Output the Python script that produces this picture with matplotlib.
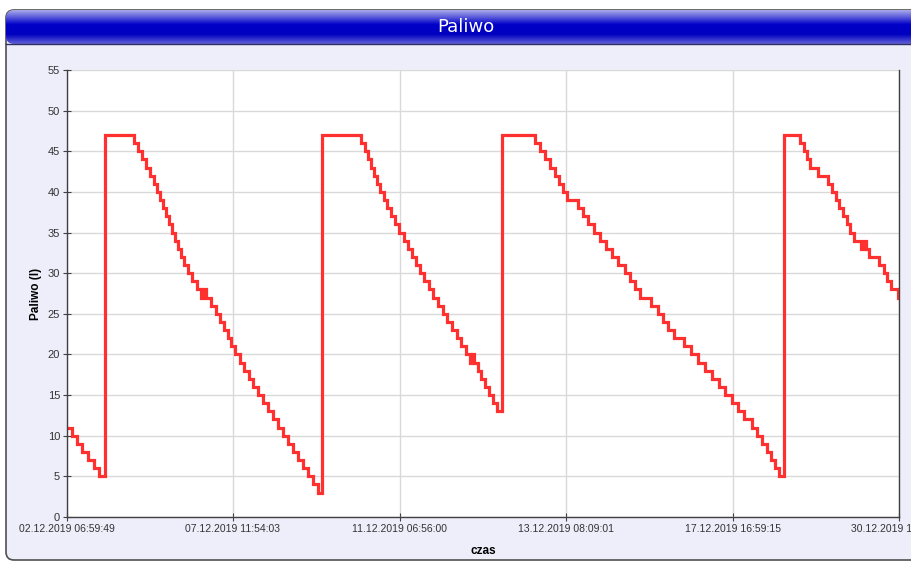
import matplotlib
matplotlib.use("Agg")
import matplotlib.pyplot as plt
import numpy as np
from matplotlib.patches import FancyBboxPatch
from matplotlib.colors import LinearSegmentedColormap
from matplotlib.transforms import IdentityTransform

# ---- data: sample index (x) where each fuel level (y) begins; step chart ----
cycle0_x = [0, 5, 10, 15, 21, 27, 32]
cycle0_y = [11, 10, 9, 8, 7, 6, 5]

cycle1_x = [38, 67, 71, 75, 79, 83, 87, 90, 93, 96, 99, 102, 105, 108, 111, 114, 117,
            121, 125, 130, 134, 136, 139, 144, 149, 153, 157, 161, 164, 168, 173, 177,
            182, 186, 191, 196, 201, 206, 211, 216, 221, 226, 231, 236, 241, 246, 251]
cycle1_y = [47, 46, 45, 44, 43, 42, 41, 40, 39, 38, 37, 36, 35, 34, 33, 32, 31,
            30, 29, 28, 27, 28, 27, 26, 25, 24, 23, 22, 21, 20, 19, 18,
            17, 16, 15, 14, 13, 12, 11, 10, 9, 8, 7, 6, 5, 4, 3]

cycle2_x = [255, 294, 298, 301, 304, 307, 310, 313, 317, 320, 324, 328, 332, 337, 341,
            345, 349, 353, 357, 362, 366, 371, 376, 380, 385, 390, 394, 399, 403, 405,
            407, 411, 414, 418, 422, 426, 430]
cycle2_y = [47, 46, 45, 44, 43, 42, 41, 40, 39, 38, 37, 36, 35, 34, 33,
            32, 31, 30, 29, 28, 27, 26, 25, 24, 23, 22, 21, 20, 19, 20,
            19, 18, 17, 16, 15, 14, 13]

cycle3_x = [435, 468, 473, 478, 483, 488, 492, 496, 500, 511, 516, 521, 527, 533, 539,
            545, 551, 558, 563, 568, 573, 584, 591, 596, 601, 607, 617, 624, 631, 638,
            645, 652, 658, 665, 671, 677, 685, 690, 695, 700, 704, 708, 712]
cycle3_y = [47, 46, 45, 44, 43, 42, 41, 40, 39, 38, 37, 36, 35, 34, 33,
            32, 31, 30, 29, 28, 27, 26, 25, 24, 23, 22, 21, 20, 19, 18,
            17, 16, 15, 14, 13, 12, 11, 10, 9, 8, 7, 6, 5]

cycle4_x = [717, 733, 737, 740, 743, 751, 761, 765, 769, 772, 776, 780, 783, 787, 794,
            797, 799, 802, 812, 817, 820, 824, 831, 832]
cycle4_y = [47, 46, 45, 44, 43, 42, 41, 40, 39, 38, 37, 36, 35, 34, 33,
            34, 33, 32, 31, 30, 29, 28, 27, 27]

tick_pos = [0, 166, 333, 499, 666, 832]
tick_labels = ["02.12.2019 06:59:49", "07.12.2019 11:54:03", "11.12.2019 06:56:00",
               "13.12.2019 08:09:01", "17.12.2019 16:59:15", "30.12.2019 18:00:00"]
y_ticks = [0, 5, 10, 15, 20, 25, 30, 35, 40, 45, 50, 55]

title = "Paliwo"
y_label = "Paliwo (l)"
x_label = "czas"

x = cycle0_x + cycle1_x + cycle2_x + cycle3_x + cycle4_x
y = cycle0_y + cycle1_y + cycle2_y + cycle3_y + cycle4_y

# ---- figure ----
W, H = 912, 562
fig = plt.figure(figsize=(W / 100, H / 100), dpi=100)
fig.patch.set_facecolor("white")

# panel (pixel coordinates, origin bottom-left)
panel = FancyBboxPatch((6, 2), W + 20, H - 12, boxstyle="round,pad=0,rounding_size=8",
                       transform=IdentityTransform(), facecolor="#eeeefb",
                       edgecolor="#505050", linewidth=1.2, zorder=-10)
fig.add_artist(panel)

# title bar with gradient
bar_top, bar_bot = 10, 44
tax = fig.add_axes([6 / W, 1 - bar_bot / H, 1 - 6 / W, (bar_bot - bar_top) / H])
tax.set_axis_off()
tax.set_zorder(1)
cmap = LinearSegmentedColormap.from_list(
    "bar", [(0.0, "#a8a8ea"), (0.25, "#4848d8"), (0.42, "#0000c8"),
            (0.72, "#0000c0"), (1.0, "#6060d8")])
grad = np.linspace(0, 1, 64).reshape(-1, 1)
img = tax.imshow(grad, aspect="auto", cmap=cmap, extent=[0, 1, 0, 1], origin="upper")
clip = FancyBboxPatch((6, H - bar_bot), W + 20, bar_bot - bar_top,
                      boxstyle="round,pad=0,rounding_size=8",
                      transform=IdentityTransform(), facecolor="none")
img.set_clip_path(clip)
tax.set_xlim(0, 1)
tax.set_ylim(0, 1)
tax.text((466 - 6) / (W - 6), 0.5, title, color="white", fontsize=13,
         ha="center", va="center", family="DejaVu Sans")
fig.add_artist(plt.Line2D([6 / W, 1], [1 - bar_bot / H, 1 - bar_bot / H],
                          color="#303060", lw=1.0, transform=fig.transFigure, zorder=5))

# main axes
left, right, top, bottom = 67, 899, 70, 517
ax = fig.add_axes([left / W, 1 - bottom / H, (right - left) / W, (bottom - top) / H])
ax.set_facecolor("white")
ax.plot(x, y, drawstyle="steps-post", color="#ff3030", lw=2.3, solid_joinstyle="miter")
ax.set_xlim(0, 832)
ax.set_ylim(0, 55)
ax.set_yticks(y_ticks)
ax.set_xticks(tick_pos)
ax.set_xticklabels(tick_labels)
ax.grid(True, color="#d9d9d9", lw=1.0)
ax.set_axisbelow(True)
ax.spines["top"].set_visible(False)
for s in ["left", "bottom", "right"]:
    ax.spines[s].set_color("#404040")
    ax.spines[s].set_linewidth(1.0)
fam = ["Liberation Sans", "DejaVu Sans"]
ax.tick_params(axis="both", direction="inout", length=6, width=0.8, color="#404040",
               labelcolor="#333333")
ax.tick_params(axis="x", pad=2, labelsize=7.5)
ax.tick_params(axis="y", pad=2, labelsize=8)
for lab in ax.get_xticklabels() + ax.get_yticklabels():
    lab.set_family(fam)
ax.set_ylabel(y_label, fontsize=8.5, fontweight="bold", family=fam, labelpad=4)
ax.set_xlabel(x_label, fontsize=8.5, fontweight="bold", family=fam, labelpad=8)

fig.savefig("out.png", dpi=100)
